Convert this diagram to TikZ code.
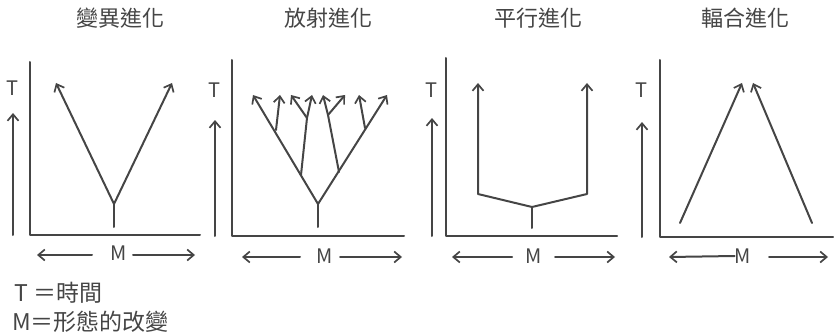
\documentclass[tikz,border=0pt]{standalone}
\usepackage{fontspec}
\setmainfont{Noto Sans CJK TC}
\usetikzlibrary{arrows.meta}
\definecolor{ink}{HTML}{454545}
\tikzset{
  ln/.style={draw=ink, line width=2pt, line cap=round, line join=round},
  arr/.style={ln, -{Straight Barb[length=6.5pt,width=11pt,line width=1.7pt]}},
  ttl/.style={text=ink, font=\fontsize{22}{22}\selectfont, inner sep=0pt},
  lbl/.style={text=ink, font=\fontsize{20}{20}\selectfont, inner sep=0pt},
  leg/.style={text=ink, font=\fontsize{23}{23}\selectfont, inner sep=0pt, anchor=west},
}
\begin{document}
\begin{tikzpicture}[x=1pt,y=-1pt]
\useasboundingbox (0,0) rectangle (834,334);
% ---------- Panel 1 ----------
\node[ttl] (t1) at (120,18) {變異進化};
\coordinate (a1top) at (30,62); \coordinate (a1o) at (30,235); \coordinate (a1r) at (200,235);
\draw[ln] (a1top) -- (a1o) -- (a1r);
\node[lbl] (T1) at (12,88) {T};
\coordinate (T1b) at (13,235); \coordinate (T1t) at (13,113);
\draw[arr] (T1b) -- (T1t);
\node[lbl] (M1) at (119,253) {M};
\coordinate (M1l) at (37,255); \coordinate (M1r) at (195,255);
\draw[arr] (92,255) -- (M1l);
\draw[arr] (133,255) -- (M1r);
\coordinate (r1) at (114,204); \coordinate (s1) at (114,227);
\coordinate (p1l) at (56,83); \coordinate (p1r) at (172,83);
\draw[ln] (s1) -- (r1);
\draw[arr] (r1) -- (p1l);
\draw[arr] (r1) -- (p1r);
% ---------- Panel 2 ----------
\node[ttl] (t2) at (328,18) {放射進化};
\coordinate (a2top) at (232,60); \coordinate (a2o) at (232,236); \coordinate (a2r) at (404,236);
\draw[ln] (a2top) -- (a2o) -- (a2r);
\node[lbl] (T2) at (214,90) {T};
\coordinate (T2b) at (215,236); \coordinate (T2t) at (215,120);
\draw[arr] (T2b) -- (T2t);
\node[lbl] (M2) at (325,256) {M};
\coordinate (M2l) at (242,257); \coordinate (M2r) at (402,257);
\draw[arr] (300,257) -- (M2l);
\draw[arr] (340,257) -- (M2r);
\coordinate (r2) at (318,204); \coordinate (s2) at (318,227);
\draw[ln] (s2) -- (r2);
\coordinate (L) at (253,95); \coordinate (R) at (387,95);
\draw[arr] (r2) -- (L);
\draw[arr] (r2) -- (R);
\coordinate (b1) at (276,130); \coordinate (b1t) at (280,95);
\draw[arr] (b1) -- (b1t);
\coordinate (b2) at (301,175); \coordinate (b2m) at (307,118);
\coordinate (b2a) at (291,95); \coordinate (b2b) at (312,95);
\draw[ln] (b2) -- (b2m);
\draw[arr] (b2m) -- (b2a);
\draw[arr] (b2m) -- (b2b);
\coordinate (b3) at (339,172); \coordinate (b3m) at (328,115);
\coordinate (b3a) at (323,95); \coordinate (b3b) at (345,95);
\draw[ln] (b3) -- (b3m);
\draw[arr] (b3m) -- (b3a);
\draw[arr] (b3m) -- (b3b);
\coordinate (b4) at (365,128); \coordinate (b4t) at (359,95);
\draw[arr] (b4) -- (b4t);
% ---------- Panel 3 ----------
\node[ttl] (t3) at (538,18) {平行進化};
\coordinate (a3top) at (446,58); \coordinate (a3o) at (446,236); \coordinate (a3r) at (617,236);
\draw[ln] (a3top) -- (a3o) -- (a3r);
\node[lbl] (T3) at (431,90) {T};
\coordinate (T3b) at (432,236); \coordinate (T3t) at (432,118);
\draw[arr] (T3b) -- (T3t);
\node[lbl] (M3) at (534,256) {M};
\coordinate (M3l) at (452,257); \coordinate (M3r) at (615,257);
\draw[arr] (512,257) -- (M3l);
\draw[arr] (555,257) -- (M3r);
\coordinate (s3) at (532,228); \coordinate (r3) at (532,207);
\coordinate (c3l) at (478,194); \coordinate (c3r) at (587,194);
\coordinate (p3l) at (478,83); \coordinate (p3r) at (587,83);
\draw[ln] (s3) -- (r3);
\draw[arr] (r3) -- (c3l) -- (p3l);
\draw[arr] (r3) -- (c3r) -- (p3r);
% ---------- Panel 4 ----------
\node[ttl] (t4) at (745,18) {輻合進化};
\coordinate (a4top) at (660,60); \coordinate (a4o) at (660,237); \coordinate (a4r) at (833,237);
\draw[ln] (a4top) -- (a4o) -- (a4r);
\node[lbl] (T4) at (641,90) {T};
\coordinate (T4b) at (642,237); \coordinate (T4t) at (642,122);
\draw[arr] (T4b) -- (T4t);
\node[lbl] (M4) at (743,256) {M};
\coordinate (M4l) at (669,257); \coordinate (M4r) at (828,257);
\draw[arr] (M4.west) -- (M4l);
\draw[arr] (769,257) -- (M4r);
\coordinate (q4l) at (680,223); \coordinate (q4r) at (812,223);
\coordinate (p4l) at (742,83); \coordinate (p4r) at (753,83);
\draw[arr] (q4l) -- (p4l);
\draw[arr] (q4r) -- (p4r);
% ---------- Legend ----------
\node[leg] (leg1) at (14,293) {T ＝時間};
\node[leg] (leg2) at (12,322) {M＝形態的改變};
\end{tikzpicture}
\end{document}
